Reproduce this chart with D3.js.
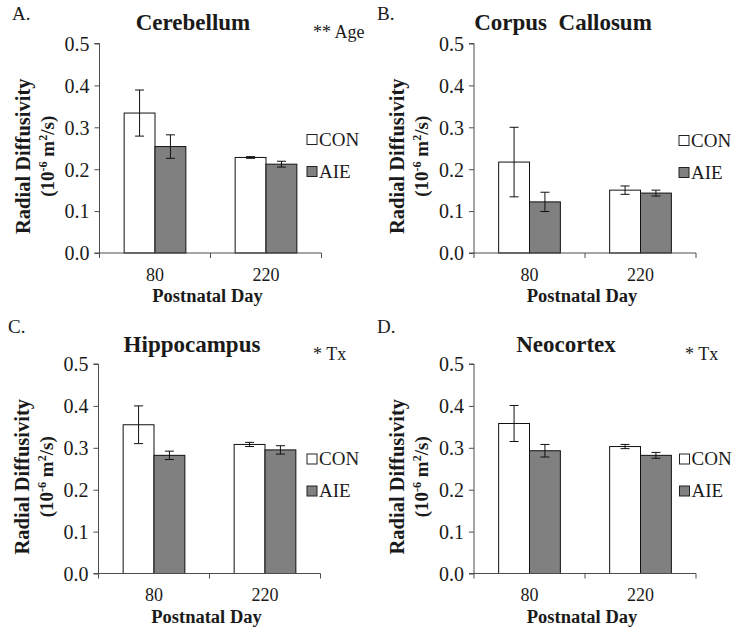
<!DOCTYPE html>
<html><head><meta charset="utf-8">
<script src="https://cdn.jsdelivr.net/npm/d3@7"></script>
<style>
html,body{margin:0;padding:0;background:#fff;}
text{font-family:"Liberation Serif","Times New Roman",serif;fill:#1a1a1a;white-space:pre;}
</style></head>
<body>
<svg id="chart" width="749" height="637"></svg>
<script>
// ---- data ----
const panelTitles = ["Cerebellum", "Corpus  Callosum", "Hippocampus", "Neocortex"];
const panelLetters = ["A.", "B.", "C.", "D."];
const panelNotes = ["** Age", "", "* Tx", "* Tx"];
const days = ["80", "220"];
const groups = ["CON", "AIE"];
const conMeans = [[0.334, 0.228], [0.217, 0.150], [0.355, 0.308], [0.358, 0.303]];
const conErr   = [[0.055, 0.002], [0.083, 0.010], [0.045, 0.005], [0.043, 0.005]];
const aieMeans = [[0.254, 0.212], [0.122, 0.143], [0.282, 0.295], [0.293, 0.282]];
const aieErr   = [[0.028, 0.007], [0.023, 0.007], [0.010, 0.010], [0.015, 0.007]];
const yTicks = [0, 0.1, 0.2, 0.3, 0.4, 0.5];
const xTitle = "Postnatal Day";
const yTitle = "Radial Diffusivity";

// ---- layout ----
const FONT = '"Liberation Serif","Times New Roman",serif';
const layout = [
  {x: 99.5, y: 43.5, title: [193, 30], letter: [12, 20], note: [313, 38], leg: [207.5, 91]},
  {x: 474, y: 43.5, title: [563, 30], letter: [377, 20], note: null, leg: [205, 92]},
  {x: 98.5, y: 364, title: [192, 352], letter: [8, 333], note: [313, 360], leg: [208.5, 90]},
  {x: 474, y: 364, title: [566, 352], letter: [377, 333], note: [685, 360], leg: [205.5, 90]}
];
const W = 222, H = 209.5;
const fills = {CON: "#ffffff", AIE: "#808080"};
const axisColor = "#4d4d4d";

const svg = d3.select("#chart");

panelTitles.forEach((title, i) => {
  const L = layout[i];
  const g = svg.append("g").attr("transform", `translate(${L.x},${L.y})`);
  const y = d3.scaleLinear().domain([0, 0.5]).range([H, 0]);
  const x0 = d3.scaleBand().domain(days).range([0, W]).paddingInner(0.444).paddingOuter(0.222);
  const x1 = d3.scaleBand().domain(groups).range([0, x0.bandwidth()]);

  const rows = [];
  days.forEach((d, j) => {
    rows.push({day: d, grp: "CON", v: conMeans[i][j], e: conErr[i][j]});
    rows.push({day: d, grp: "AIE", v: aieMeans[i][j], e: aieErr[i][j]});
  });

  // bars
  g.selectAll("rect.bar").data(rows).join("rect")
    .attr("class", "bar")
    .attr("x", d => x0(d.day) + x1(d.grp))
    .attr("y", d => y(d.v))
    .attr("width", x1.bandwidth())
    .attr("height", d => H - y(d.v))
    .attr("fill", d => fills[d.grp])
    .attr("stroke", "#111").attr("stroke-width", 1);

  // error bars
  const eb = g.selectAll("g.err").data(rows).join("g").attr("class", "err")
    .attr("transform", d => `translate(${x0(d.day) + x1(d.grp) + x1.bandwidth() / 2},0)`);
  eb.append("line").attr("x1", 0).attr("x2", 0)
    .attr("y1", d => y(d.v + d.e)).attr("y2", d => y(d.v - d.e))
    .attr("stroke", "#111").attr("stroke-width", 1);
  eb.append("line").attr("x1", -4.5).attr("x2", 4.5)
    .attr("y1", d => y(d.v + d.e)).attr("y2", d => y(d.v + d.e))
    .attr("stroke", "#111").attr("stroke-width", 1);
  eb.append("line").attr("x1", -4.5).attr("x2", 4.5)
    .attr("y1", d => y(d.v - d.e)).attr("y2", d => y(d.v - d.e))
    .attr("stroke", "#111").attr("stroke-width", 1);

  // y axis
  const ya = g.append("g").call(d3.axisLeft(y).tickValues(yTicks).tickFormat(d3.format(".1f")).tickSize(5).tickPadding(5));
  ya.attr("font-family", FONT);
  ya.selectAll("path,line").attr("stroke", axisColor);
  ya.select("path").attr("d", `M-5,${H}H0V0H-5`);
  ya.selectAll("text").attr("font-size", 20).attr("font-family", FONT).attr("fill", "#222")
    .attr("dy", "0.34em");

  // x axis
  const xa = g.append("g").attr("transform", `translate(0,${H})`)
    .call(d3.axisBottom(x0).tickSize(0).tickPadding(0));
  xa.attr("font-family", FONT);
  xa.select("path").attr("stroke", axisColor).attr("d", `M0,0H${W}`);
  xa.selectAll("text").attr("font-size", 18).attr("font-family", FONT).attr("fill", "#222")
    .attr("dy", null).attr("y", 27.5);
  const bounds = [0, x0.step(), W];
  xa.selectAll("line.bnd").data(bounds).join("line").attr("class", "bnd")
    .attr("x1", d => d).attr("x2", d => d).attr("y1", 0).attr("y2", 5)
    .attr("stroke", axisColor);

  // x title
  g.append("text").attr("x", W / 2 - 3).attr("y", H + 49)
    .attr("text-anchor", "middle").attr("font-weight", "bold").attr("font-size", 18.5)
    .text(xTitle);

  // y title (two lines)
  const yc = H / 2 + 8;
  g.append("text").attr("transform", `translate(-70,${yc}) rotate(-90)`)
    .attr("text-anchor", "middle").attr("font-weight", "bold").attr("font-size", 20.5)
    .text(yTitle);
  const t2 = g.append("text").attr("transform", `translate(-46,${yc}) rotate(-90)`)
    .attr("text-anchor", "middle").attr("font-weight", "bold").attr("font-size", 19);
  t2.append("tspan").text("(10");
  t2.append("tspan").attr("dy", -7).attr("font-size", 12).text("-6");
  t2.append("tspan").attr("dy", 7).text(" m");
  t2.append("tspan").attr("dy", -7).attr("font-size", 12).text("2");
  t2.append("tspan").attr("dy", 7).text("/s)");

  // legend
  groups.forEach((grp, k) => {
    const lx = L.leg[0], ly = L.leg[1] + k * 32;
    g.append("rect").attr("x", lx).attr("y", ly).attr("width", 10).attr("height", 10)
      .attr("fill", fills[grp]).attr("stroke", "#222").attr("stroke-width", 1);
    g.append("text").attr("x", lx + 12).attr("y", ly + 11).attr("font-size", 19).text(grp);
  });

  // title, letter, note
  svg.append("text").attr("x", L.title[0]).attr("y", L.title[1])
    .attr("text-anchor", "middle").attr("font-weight", "bold").attr("font-size", 23).text(title);
  svg.append("text").attr("x", L.letter[0]).attr("y", L.letter[1]).attr("font-size", 19).text(panelLetters[i]);
  if (panelNotes[i]) {
    svg.append("text").attr("x", L.note[0]).attr("y", L.note[1]).attr("font-size", 18).text(panelNotes[i]);
  }
});
</script>
</body></html>
